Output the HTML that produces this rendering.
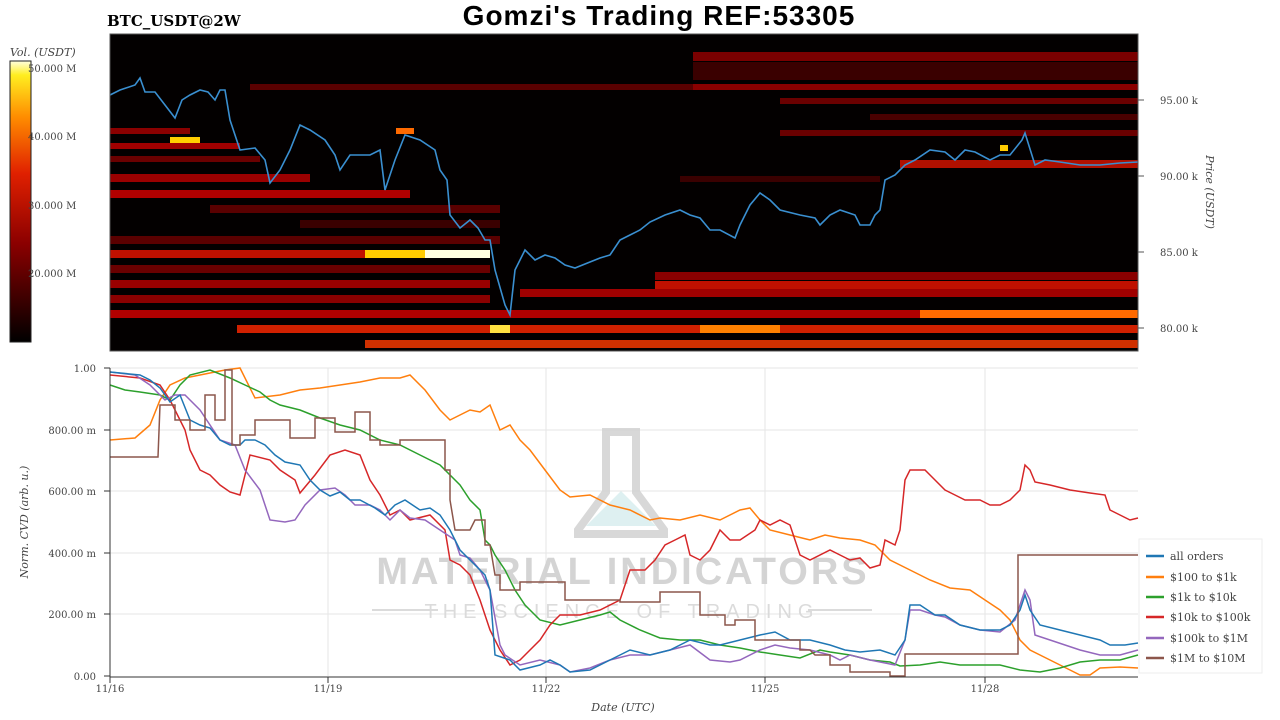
<!DOCTYPE html>
<html><head><meta charset="utf-8"><style>
body{margin:0;background:#fff;width:1280px;height:720px;overflow:hidden}
svg{display:block}
text{font-family:"DejaVu Serif","Liberation Serif",serif}
</style></head><body>
<svg width="1280" height="720" viewBox="0 0 1280 720" xmlns="http://www.w3.org/2000/svg">
<defs>
<linearGradient id="cb" x1="0" y1="1" x2="0" y2="0">
<stop offset="0" stop-color="#000"/><stop offset="0.35" stop-color="#8b0000"/><stop offset="0.6" stop-color="#e02000"/><stop offset="0.8" stop-color="#ff8c00"/><stop offset="0.95" stop-color="#ffee20"/><stop offset="1" stop-color="#ffffe0"/>
</linearGradient>
</defs>
<text x="659" y="25" text-anchor="middle" font-size="28" font-weight="bold" letter-spacing="1" style="font-family:'Liberation Sans',sans-serif">Gomzi's Trading REF:53305</text>
<text x="107" y="26" font-size="15" font-weight="bold">BTC_USDT@2W</text>
<text x="10" y="56" font-size="11" font-style="italic" fill="#444">Vol. (USDT)</text>
<rect x="10" y="61" width="21" height="281" fill="url(#cb)" stroke="#222"/>
<g font-size="10" fill="#444"><text x="28" y="72">50.000 M</text><text x="28" y="140">40.000 M</text><text x="28" y="209">30.000 M</text><text x="28" y="277">20.000 M</text></g>
<rect x="110" y="34" width="1028" height="317" fill="#030000"/>
<g>
<rect x="693" y="52" width="445" height="9" fill="#7a0000"/>
<rect x="693" y="62" width="445" height="18" fill="#3a0000"/>
<rect x="250" y="84" width="888" height="6" fill="#5a0000"/>
<rect x="693" y="84" width="445" height="6" fill="#8a0000"/>
<rect x="780" y="98" width="358" height="6" fill="#6a0000"/>
<rect x="870" y="114" width="268" height="6" fill="#4a0000"/>
<rect x="110" y="128" width="80" height="6" fill="#8a0000"/>
<rect x="780" y="130" width="358" height="6" fill="#6a0000"/>
<rect x="110" y="143" width="130" height="6" fill="#a00000"/>
<rect x="110" y="156" width="150" height="6" fill="#6a0000"/>
<rect x="680" y="176" width="200" height="6" fill="#3a0000"/>
<rect x="110" y="174" width="200" height="8" fill="#9a0000"/>
<rect x="110" y="190" width="300" height="8" fill="#b00000"/>
<rect x="210" y="205" width="290" height="8" fill="#5a0000"/>
<rect x="300" y="220" width="200" height="8" fill="#3a0000"/>
<rect x="110" y="236" width="390" height="8" fill="#5a0000"/>
<rect x="110" y="250" width="380" height="8" fill="#c01000"/>
<rect x="365" y="250" width="60" height="8" fill="#ffcc00"/>
<rect x="425" y="250" width="65" height="8" fill="#ffffe0"/>
<rect x="110" y="265" width="380" height="8" fill="#6a0000"/>
<rect x="110" y="280" width="380" height="8" fill="#9a0000"/>
<rect x="655" y="272" width="483" height="8" fill="#8a0000"/>
<rect x="655" y="281" width="483" height="8" fill="#c01000"/>
<rect x="110" y="295" width="380" height="8" fill="#8a0000"/>
<rect x="520" y="289" width="618" height="8" fill="#a00000"/>
<rect x="110" y="310" width="1028" height="8" fill="#b00000"/>
<rect x="920" y="310" width="218" height="8" fill="#ff6a00"/>
<rect x="237" y="325" width="901" height="8" fill="#d02000"/>
<rect x="490" y="325" width="20" height="8" fill="#ffe040"/>
<rect x="700" y="325" width="80" height="8" fill="#ff8000"/>
<rect x="365" y="340" width="773" height="8" fill="#d03000"/>
<rect x="170" y="137" width="30" height="6" fill="#ffcc00"/>
<rect x="396" y="128" width="18" height="6" fill="#ff6a00"/>
<rect x="1000" y="145" width="8" height="6" fill="#ffcc00"/>
<rect x="900" y="160" width="238" height="8" fill="#b01000"/>
</g>
<polyline fill="none" stroke="#3a8fd0" stroke-width="1.6" points="110,95 120,90 135,85 140,78 145,92 155,92 165,105 175,118 182,100 190,95 200,90 208,92 215,100 220,90 225,90 230,120 240,150 255,148 265,160 270,183 280,170 290,150 300,125 310,130 325,140 335,155 340,170 350,155 370,155 380,150 385,190 395,160 405,135 420,140 435,150 440,170 447,180 450,215 460,228 470,220 478,228 485,240 490,240 495,270 505,305 510,315 515,270 525,250 535,260 545,255 555,258 565,265 575,268 590,262 600,258 610,255 620,240 630,235 640,230 650,222 665,215 680,210 690,215 700,218 710,230 720,230 735,238 740,225 750,205 760,193 770,200 780,210 800,215 815,218 820,225 830,215 840,210 855,215 860,225 870,225 875,215 880,210 885,180 895,175 905,165 915,160 930,150 945,152 955,160 965,150 975,152 990,160 1000,155 1010,155 1022,140 1025,133 1035,165 1045,160 1060,162 1080,165 1100,165 1120,163 1138,162"/>
<rect x="110" y="34" width="1028" height="317" fill="none" stroke="#555"/>
<g stroke="#555"><line x1="1138" y1="100" x2="1144" y2="100"/><line x1="1138" y1="176" x2="1144" y2="176"/><line x1="1138" y1="252" x2="1144" y2="252"/><line x1="1138" y1="328" x2="1144" y2="328"/></g>
<g font-size="10" fill="#444"><text x="1160" y="104">95.00 k</text><text x="1160" y="180">90.00 k</text><text x="1160" y="256">85.00 k</text><text x="1160" y="332">80.00 k</text></g>
<text transform="translate(1206,192) rotate(90)" text-anchor="middle" font-size="11" font-style="italic" fill="#444">Price (USDT)</text>
<g stroke="#e6e6e6"><line x1="110" y1="368" x2="1138" y2="368"/><line x1="110" y1="430" x2="1138" y2="430"/><line x1="110" y1="491" x2="1138" y2="491"/><line x1="110" y1="553" x2="1138" y2="553"/><line x1="110" y1="614" x2="1138" y2="614"/>
<line x1="328" y1="368" x2="328" y2="676"/><line x1="546" y1="368" x2="546" y2="676"/><line x1="765" y1="368" x2="765" y2="676"/><line x1="985" y1="368" x2="985" y2="676"/></g>
<g opacity="0.9">
<path d="M606,432 h30 v60 l28,38 v4 h-86 v-4 l28,-38 z" fill="none" stroke="#d4d4d4" stroke-width="8"/>
<path d="M586,526 l35,-35 l35,35 z" fill="#dbeff0"/>
<text x="623" y="584" text-anchor="middle" font-size="38" font-weight="bold" fill="#d0d0d0" letter-spacing="3" style="font-family:'Liberation Sans',sans-serif">MATERIAL INDICATORS</text>
<text x="622" y="618" text-anchor="middle" font-size="20" fill="#d8d8d8" letter-spacing="6" style="font-family:'Liberation Sans',sans-serif">THE SCIENCE OF TRADING</text>
<line x1="372" y1="610" x2="438" y2="610" stroke="#d8d8d8" stroke-width="2"/><line x1="808" y1="610" x2="872" y2="610" stroke="#d8d8d8" stroke-width="2"/>
</g>
<g fill="none" stroke-width="1.5">
<polyline stroke="#ff7f0e" points="110,440 135,438 150,425 160,400 170,385 185,378 200,375 215,372 225,370 240,368 255,398 280,395 300,390 320,388 340,385 360,382 380,378 400,378 410,375 425,390 440,410 450,420 470,410 480,412 490,405 500,430 510,425 520,440 530,450 545,470 560,490 570,497 590,495 610,505 630,510 650,520 660,518 680,520 700,515 720,520 740,510 750,508 760,520 770,530 790,535 810,540 825,535 840,538 860,540 875,545 890,560 910,570 930,580 950,588 970,590 985,600 1000,610 1010,620 1020,640 1030,650 1050,660 1070,670 1080,675 1090,675 1100,668 1120,667 1138,668"/>
<polyline stroke="#2ca02c" points="110,385 125,390 140,392 160,395 170,400 180,385 190,375 210,370 230,378 245,385 260,392 270,400 280,405 300,410 320,418 340,425 360,430 380,440 400,445 420,455 440,465 460,485 470,500 480,510 485,540 490,545 495,555 505,570 515,590 525,605 540,620 560,625 580,620 600,615 610,612 620,620 640,630 660,638 680,640 700,640 720,645 740,648 760,652 780,655 800,658 820,650 830,652 850,655 870,660 890,662 900,666 920,665 940,662 960,665 980,665 1000,665 1020,670 1040,672 1060,668 1080,662 1100,660 1120,660 1138,655"/>
<polyline stroke="#d62728" points="110,375 140,378 160,385 170,400 175,410 185,430 190,450 200,470 210,475 220,485 230,492 240,495 250,455 270,460 280,470 295,480 300,493 315,475 330,455 345,450 360,455 370,480 380,495 390,515 400,510 410,520 430,515 445,530 450,560 460,565 470,575 480,600 490,630 500,650 510,665 520,660 530,650 540,640 550,625 560,615 580,615 600,610 620,600 630,570 645,570 655,560 665,545 675,540 685,535 690,555 700,560 710,550 720,530 730,540 740,540 755,530 760,520 770,525 780,520 790,525 800,555 810,560 830,550 840,555 850,560 860,558 870,568 880,565 885,540 895,545 900,530 905,480 910,470 925,470 930,475 945,490 955,495 965,500 980,500 990,505 1000,505 1010,500 1020,490 1025,465 1030,470 1035,482 1050,485 1070,490 1090,493 1105,495 1110,510 1120,515 1130,520 1138,518"/>
<polyline stroke="#9467bd" points="110,372 135,375 150,385 165,400 175,395 185,395 200,410 220,440 235,445 245,470 260,490 270,520 285,522 295,520 305,505 320,490 335,488 345,495 355,505 370,505 380,510 390,520 400,510 410,518 425,520 440,530 455,540 460,555 470,558 480,570 490,590 500,645 505,655 520,665 540,660 560,665 570,672 590,668 610,660 630,655 650,655 670,650 690,645 710,660 730,662 740,660 760,650 775,645 790,648 810,650 830,655 840,660 850,655 870,660 895,665 905,640 910,610 920,610 935,615 945,617 960,625 980,630 1000,632 1015,620 1025,590 1030,600 1035,635 1050,640 1080,650 1100,655 1120,655 1138,650"/>
<polyline stroke="#1f77b4" points="110,372 140,375 150,380 160,388 170,402 180,395 190,420 200,425 210,428 220,440 230,445 240,445 245,440 255,440 265,445 275,455 285,462 300,465 310,480 320,490 330,496 340,492 350,500 360,500 375,508 385,515 395,505 405,500 420,510 430,508 440,515 450,530 460,550 470,560 478,568 485,575 490,590 495,655 510,660 520,670 540,665 550,660 560,665 570,672 590,670 610,660 630,650 650,655 670,650 690,640 710,645 720,645 740,640 760,635 775,632 790,640 810,640 830,645 845,650 860,652 880,650 895,655 905,640 910,605 920,605 935,615 945,615 960,625 980,630 1000,630 1010,625 1020,610 1025,595 1030,610 1040,625 1060,630 1080,635 1100,640 1110,645 1125,645 1138,643"/>
<polyline stroke="#8c564b" points="110,457 158,457 160,405 175,405 175,420 190,420 190,430 205,430 205,395 215,395 215,420 225,420 225,370 232,370 232,445 240,445 240,435 255,435 255,420 290,420 290,438 315,438 315,418 335,418 335,432 355,432 355,412 370,412 370,440 380,440 380,445 400,445 400,440 445,440 445,470 450,470 450,500 455,530 470,530 475,520 485,520 485,545 490,545 495,575 500,575 500,590 520,590 520,582 565,582 565,600 620,600 620,602 660,602 660,592 700,592 700,615 725,615 725,625 735,625 735,620 755,620 755,640 800,640 800,650 810,650 815,655 830,655 830,665 850,665 850,672 890,672 890,676 905,676 905,654 1018,654 1018,555 1138,555"/>
</g>
<g stroke="#333"><line x1="110" y1="368" x2="110" y2="677"/><line x1="110" y1="677" x2="1138" y2="677"/>
<line x1="104" y1="368" x2="110" y2="368"/><line x1="104" y1="430" x2="110" y2="430"/><line x1="104" y1="491" x2="110" y2="491"/><line x1="104" y1="553" x2="110" y2="553"/><line x1="104" y1="614" x2="110" y2="614"/><line x1="104" y1="676" x2="110" y2="676"/>
<line x1="110" y1="677" x2="110" y2="683"/><line x1="328" y1="677" x2="328" y2="683"/><line x1="546" y1="677" x2="546" y2="683"/><line x1="765" y1="677" x2="765" y2="683"/><line x1="985" y1="677" x2="985" y2="683"/></g>
<g font-size="10" fill="#444" text-anchor="end"><text x="96" y="372">1.00</text><text x="96" y="434">800.00 m</text><text x="96" y="495">600.00 m</text><text x="96" y="557">400.00 m</text><text x="96" y="618">200.00 m</text><text x="96" y="680">0.00</text></g>
<g font-size="10" fill="#444" text-anchor="middle"><text x="110" y="692">11/16</text><text x="328" y="692">11/19</text><text x="546" y="692">11/22</text><text x="765" y="692">11/25</text><text x="985" y="692">11/28</text></g>
<text x="623" y="711" text-anchor="middle" font-size="11" font-style="italic" fill="#444">Date (UTC)</text>
<text transform="translate(28,522) rotate(-90)" text-anchor="middle" font-size="11" font-style="italic" fill="#444">Norm. CVD (arb. u.)</text>
<rect x="1139" y="539" width="123" height="134" fill="#fff" stroke="#eee"/>
<g stroke-width="2.5"><line x1="1146" y1="556" x2="1164" y2="556" stroke="#1f77b4"/><line x1="1146" y1="577" x2="1164" y2="577" stroke="#ff7f0e"/><line x1="1146" y1="597" x2="1164" y2="597" stroke="#2ca02c"/><line x1="1146" y1="617" x2="1164" y2="617" stroke="#d62728"/><line x1="1146" y1="638" x2="1164" y2="638" stroke="#9467bd"/><line x1="1146" y1="658" x2="1164" y2="658" stroke="#8c564b"/></g>
<g font-size="11" fill="#444"><text x="1170" y="560">all orders</text><text x="1170" y="581">$100 to $1k</text><text x="1170" y="601">$1k to $10k</text><text x="1170" y="621">$10k to $100k</text><text x="1170" y="642">$100k to $1M</text><text x="1170" y="662">$1M to $10M</text></g>
</svg>
</body></html>
